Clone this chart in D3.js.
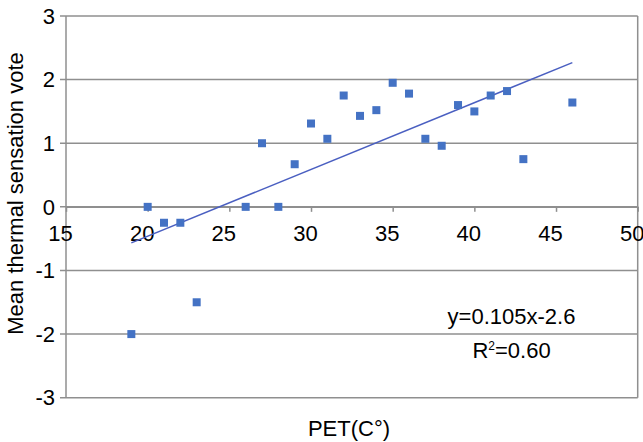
<!DOCTYPE html>
<html>
<head>
<meta charset="utf-8">
<script src="https://cdn.jsdelivr.net/npm/d3@7"></script>
<style>
  body { margin: 0; background: #fff; }
  svg text { font-family: "Liberation Sans", Arial, sans-serif; fill: #000; }
</style>
</head>
<body>
<svg id="chart" width="643" height="442"></svg>
<script>
// PET (C°) and mean thermal sensation vote
const pet = [19, 20, 21, 22, 23, 26, 27, 28, 29, 30, 31, 32, 33, 34, 35, 36, 37, 38, 39, 40, 41, 42, 43, 46];
const mtsv = [-2, 0, -0.25, -0.25, -1.5, 0, 1, 0, 0.67, 1.31, 1.07, 1.75, 1.43, 1.52, 1.95, 1.78, 1.07, 0.96, 1.6, 1.5, 1.75, 1.82, 0.75, 1.64];
const xTicks = [15, 20, 25, 30, 35, 40, 45, 50];
const yTicks = [-3, -2, -1, 0, 1, 2, 3];
const equationText = "y=0.105x-2.6";

const svg = d3.select("#chart");
const plotLeft = 66, plotRight = 637.7, plotTop = 16, plotBottom = 397.7;

const x = d3.scaleLinear().domain([15, 50]).range([plotLeft, plotRight]);
const y = d3.scaleLinear().domain([-3, 3]).range([plotBottom, plotTop]);

const gridColor = "#8f8f8f";
const blue = "#4472c4";

// horizontal gridlines
svg.append("g")
  .selectAll("line")
  .data(yTicks)
  .enter().append("line")
  .attr("x1", plotLeft - 6).attr("x2", plotRight)
  .attr("y1", d => y(d)).attr("y2", d => y(d))
  .attr("stroke", gridColor).attr("stroke-width", 1.5);

// left axis and right border
svg.append("line")
  .attr("x1", plotLeft).attr("x2", plotLeft).attr("y1", plotTop).attr("y2", plotBottom)
  .attr("stroke", gridColor).attr("stroke-width", 1.5);
svg.append("line")
  .attr("x1", plotRight).attr("x2", plotRight).attr("y1", plotTop).attr("y2", plotBottom)
  .attr("stroke", gridColor).attr("stroke-width", 1.5);

// y tick labels
svg.append("g")
  .selectAll("text")
  .data(yTicks)
  .enter().append("text")
  .attr("x", 55)
  .attr("y", d => y(d))
  .attr("dy", "0.35em")
  .attr("text-anchor", "end")
  .style("font-size", "22px")
  .text(d => d);

// x axis crosses at y = 0
const xAxis = d3.axisBottom(x).tickValues(xTicks).tickSize(5).tickSizeOuter(0);
const gx = svg.append("g")
  .attr("transform", `translate(0,${y(0)})`)
  .call(xAxis);
gx.select(".domain").attr("stroke", gridColor).attr("stroke-width", 1.5);
gx.selectAll(".tick line").attr("stroke", gridColor).attr("stroke-width", 1.5);
gx.selectAll(".tick text")
  .attr("y", 0)
  .attr("dy", 0)
  .attr("transform", "translate(-6,34.5)")
  .style("font-size", "22px")
  .style("font-family", "Liberation Sans, Arial, sans-serif")
  .attr("fill", "#000");

// linear trend line (least squares)
const n = pet.length;
const mx = d3.mean(pet), my = d3.mean(mtsv);
let sxy = 0, sxx = 0;
for (let i = 0; i < n; i++) {
  sxy += (pet[i] - mx) * (mtsv[i] - my);
  sxx += (pet[i] - mx) * (pet[i] - mx);
}
const slope = sxy / sxx, intercept = my - slope * mx;
const xr = d3.extent(pet);
svg.append("line")
  .attr("x1", x(xr[0])).attr("y1", y(slope * xr[0] + intercept))
  .attr("x2", x(xr[1])).attr("y2", y(slope * xr[1] + intercept))
  .attr("stroke", "#4a5fc1").attr("stroke-width", 1.5);

// markers
const s = 8;
svg.append("g")
  .selectAll("rect")
  .data(pet.map((p, i) => [p, mtsv[i]]))
  .enter().append("rect")
  .attr("x", d => x(d[0]) - s / 2)
  .attr("y", d => y(d[1]) - s / 2)
  .attr("width", s).attr("height", s)
  .attr("fill", blue);

// equation
svg.append("text")
  .attr("x", 511.5).attr("y", 323.5)
  .attr("text-anchor", "middle")
  .style("font-size", "22px")
  .text(equationText);
const r2 = svg.append("text")
  .attr("x", 511.5).attr("y", 357.5)
  .attr("text-anchor", "middle")
  .style("font-size", "22px");
r2.append("tspan").text("R");
r2.append("tspan").attr("dy", -8).style("font-size", "12px").text("2");
r2.append("tspan").attr("dy", 8).text("=0.60");

// axis titles
svg.append("text")
  .attr("x", 349).attr("y", 435.5)
  .attr("text-anchor", "middle")
  .style("font-size", "22px")
  .text("PET(C°)");
svg.append("text")
  .attr("transform", "translate(23,193.5) rotate(-90)")
  .attr("text-anchor", "middle")
  .style("font-size", "22px")
  .text("Mean thermal sensation vote");
</script>
</body>
</html>
